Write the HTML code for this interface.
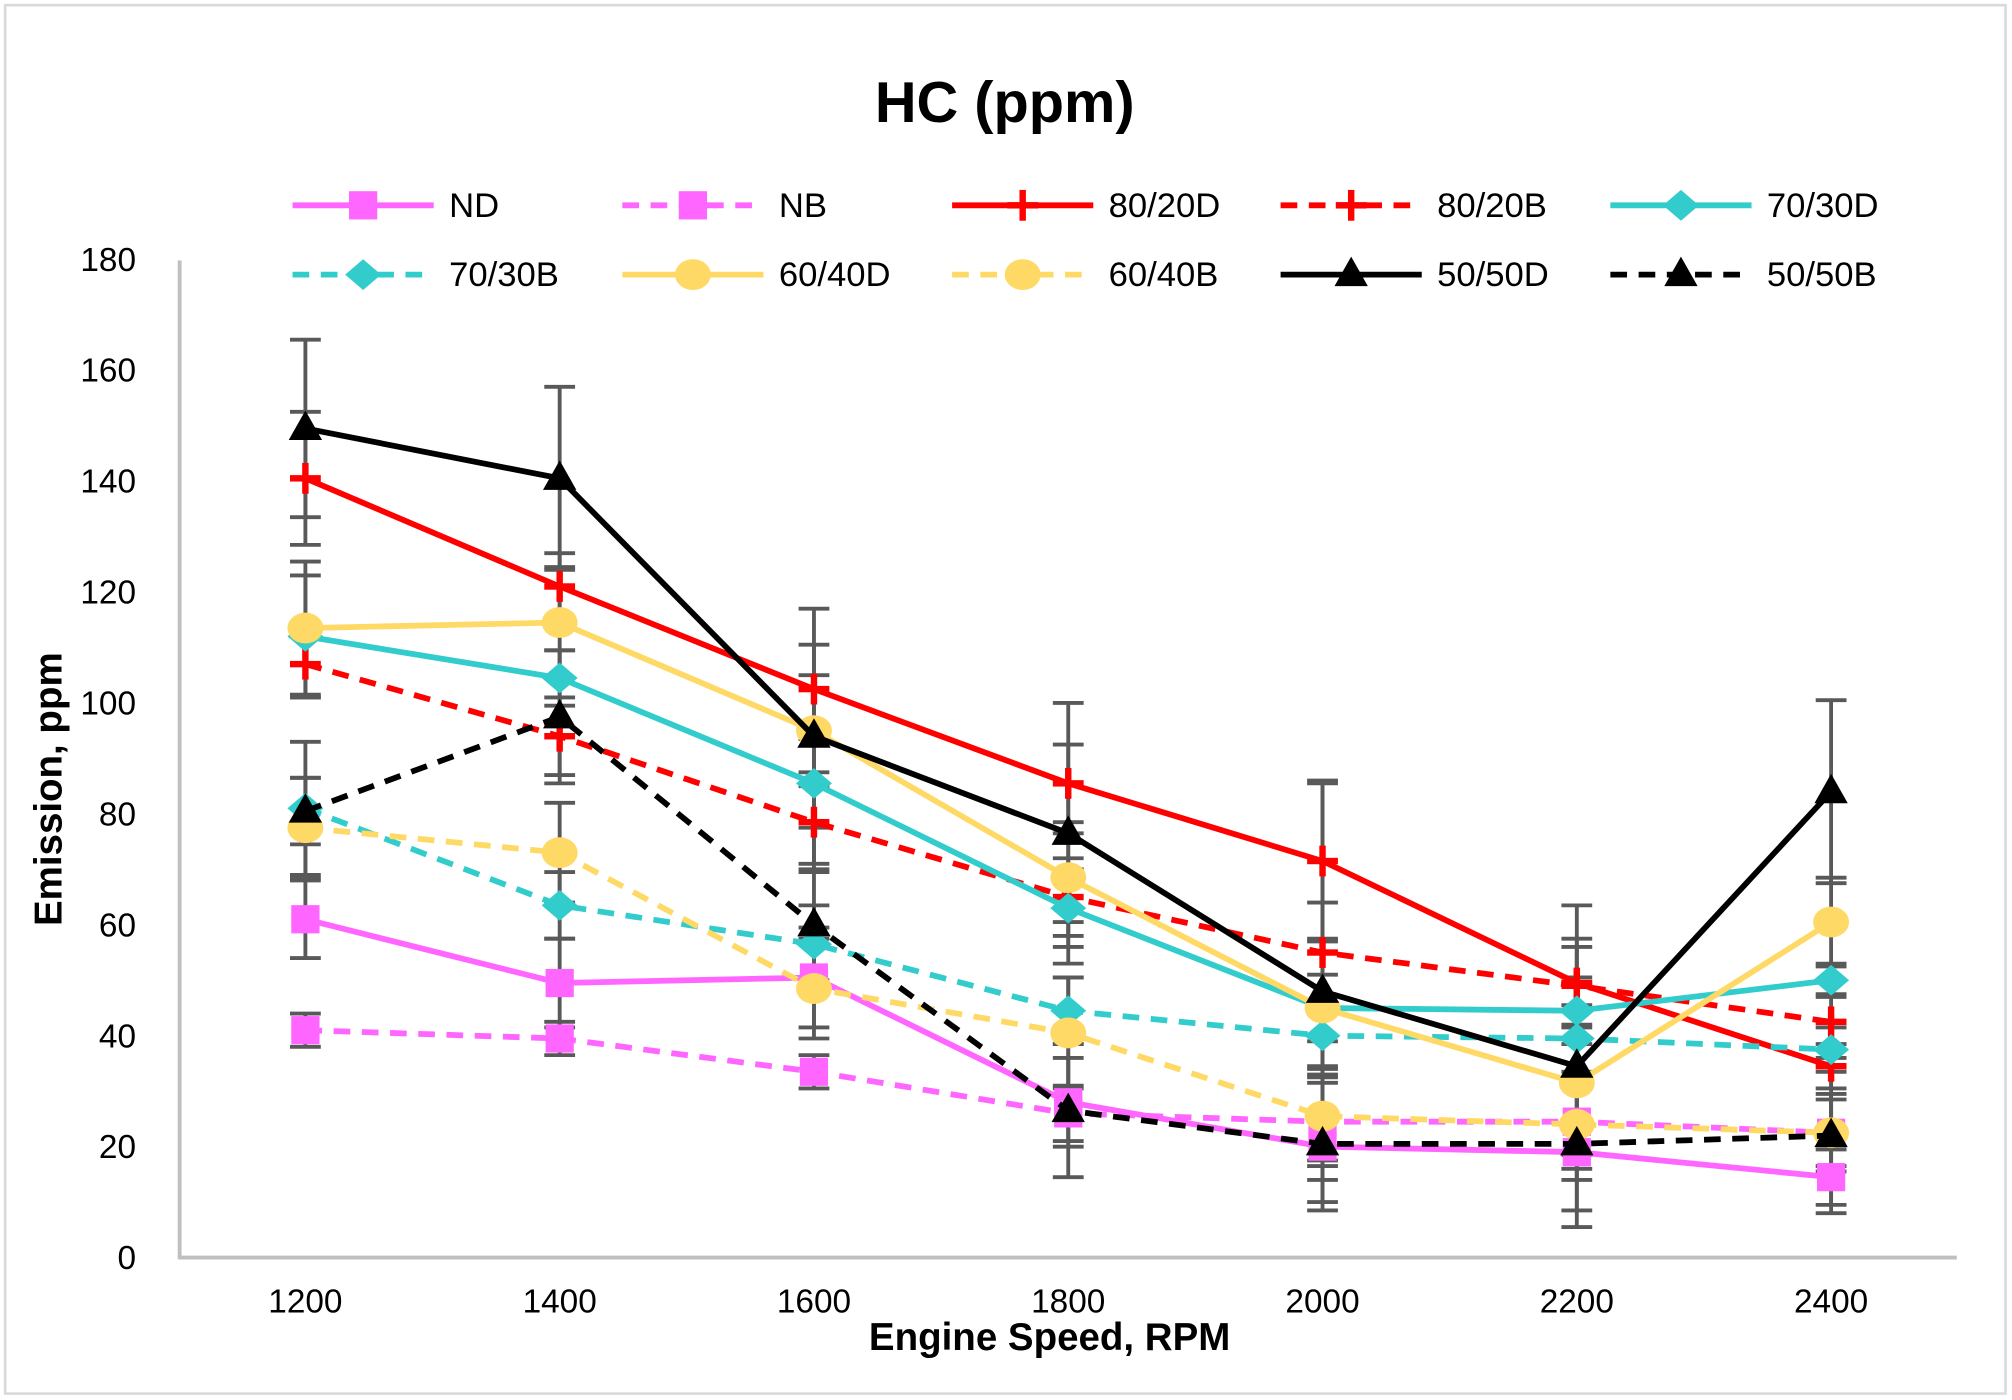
<!DOCTYPE html>
<html><head><meta charset="utf-8"><style>
html,body{margin:0;padding:0;background:#fff;}
svg{display:block;}
text{font-family:"Liberation Sans","DejaVu Sans",sans-serif;}
</style></head><body>
<svg id="s" width="2012" height="1400" viewBox="0 0 1568 1091" preserveAspectRatio="none" xmlns="http://www.w3.org/2000/svg">
<rect x="4" y="4" width="1559" height="1082" fill="#fff" stroke="#d9d9d9" stroke-width="2"/>
<text x="783" y="95" font-size="45" font-weight="bold" text-anchor="middle">HC (ppm)</text>
<g id="yl" font-size="26" text-anchor="end"></g>
<g id="xl" font-size="26" text-anchor="middle"></g>
<line x1="140" y1="203" x2="140" y2="981" stroke="#bfbfbf" stroke-width="3"/>
<line x1="139" y1="980" x2="1525" y2="980" stroke="#bfbfbf" stroke-width="3"/>
<text x="818" y="1052" font-size="30" font-weight="bold" text-anchor="middle">Engine Speed, RPM</text>
<text transform="translate(48,615) rotate(-90)" font-size="30" font-weight="bold" text-anchor="middle">Emission, ppm</text>
<g id="err"></g>
<g id="lines"></g>
<g id="leg" font-size="27"></g>
</svg>
<script>
const NS="http://www.w3.org/2000/svg";
function el(t,a,p){const e=document.createElementNS(NS,t);for(const k in a)e.setAttribute(k,a[k]);if(p)p.appendChild(e);return e;}
const X=i=>238+i*198.17, Y=v=>980-v*4.322;
const yl=document.getElementById('yl');
for(let v=0;v<=180;v+=20){const t=el('text',{x:106,y:Y(v)+9},yl);t.textContent=v;}
const xl=document.getElementById('xl');
[1200,1400,1600,1800,2000,2200,2400].forEach((v,i)=>{const t=el('text',{x:X(i),y:1023},xl);t.textContent=v;});
const S=[
["ND","#ff66ff",0,"sq",[61,49.5,50.5,28,20,19,14.5],[7,8,9,8,6,5,5]],
["NB","#ff66ff",1,"sq",[41,39.5,33.5,26,24.5,24.5,22.5],[3,3,3,5,7,6,6]],
["80/20D","#ff0000",0,"plus",[140.5,121,102.5,85.5,71.5,49.5,34.5],[12,6,8,7,14,8,4]],
["80/20B","#ff0000",1,"plus",[107,94,78.5,65,55,49,42.5],[6,7,9,7,9,7,5]],
["70/30D","#33cccc",0,"dia",[112,104.5,85.5,63,45,44.5,50],[11,5,8,7,6,6,3]],
["70/30B","#33cccc",1,"dia",[81,63.5,56.5,44.5,40,39.5,37.5],[12,6,7,6,6,6,4]],
["60/40D","#ffd966",0,"circ",[113.5,114.5,95,68.5,45,31.5,60.5],[12,10,10,8,12,8,8]],
["60/40B","#ffd966",1,"circ",[77.5,73,48.5,40.5,25.5,24,22.5],[9,9,9,10,9,8,7]],
["50/50D","#000000",0,"tri",[149.5,140.5,94,76.5,48,34.5,84],[16,16.5,23,23.5,38,29,16.5]],
["50/50B","#000000",1,"tri",[80.5,97.5,60,26.5,20.5,20.5,22],[6,12,10,12,12,12,14]]
];
const err=document.getElementById('err'),lines=document.getElementById('lines');
function marker(type,x,y,c,g){
 if(type=="sq")el('rect',{x:x-11,y:y-11,width:22,height:22,fill:c},g);
 else if(type=="plus"){el('rect',{x:x-12,y:y-2.5,width:24,height:5,fill:c},g);el('rect',{x:x-2.5,y:y-12,width:5,height:24,fill:c},g);}
 else if(type=="dia")el('polygon',{points:`${x},${y-12} ${x+14},${y} ${x},${y+12} ${x-14},${y}`,fill:c},g);
 else if(type=="circ")el('ellipse',{cx:x,cy:y,rx:14,ry:12,fill:c},g);
 else el('polygon',{points:`${x},${y-14} ${x+13},${y+9} ${x-13},${y+9}`,fill:"#000"},g);
}
S.forEach(s=>{
 s[4].forEach((v,i)=>{const x=X(i);const e=s[5][i];
  el('line',{x1:x,y1:Y(v+e),x2:x,y2:Y(v-e),stroke:"#595959","stroke-width":3},err);
  [v+e,v-e].forEach(w=>el('line',{x1:x-12,y1:Y(w),x2:x+12,y2:Y(w),stroke:"#595959","stroke-width":3},err));
 });
});
S.forEach(s=>{
 const g=el('g',{},lines);
 el('polyline',{points:s[4].map((v,i)=>X(i)+","+Y(v)).join(" "),fill:"none",stroke:s[1],"stroke-width":4.5,"stroke-dasharray":s[2]?"13,9":"none"},g);
 s[4].forEach((v,i)=>marker(s[3],X(i),Y(v),s[1],g));
});
const leg=document.getElementById('leg');
const lx=[228,485,742,998,1255],ly=[160,214];
S.forEach((s,k)=>{const r=k<5?0:1,c=k%5;const x=lx[c],y=ly[r];
 el('line',{x1:x,y1:y,x2:x+110,y2:y,stroke:s[1],"stroke-width":4.5,"stroke-dasharray":s[2]?"13,9":"none"},leg);
 marker(s[3],x+55,y,s[1],leg);
 const t=el('text',{x:x+122,y:y+9},leg);t.textContent=s[0];
});
</script>
</body></html>
